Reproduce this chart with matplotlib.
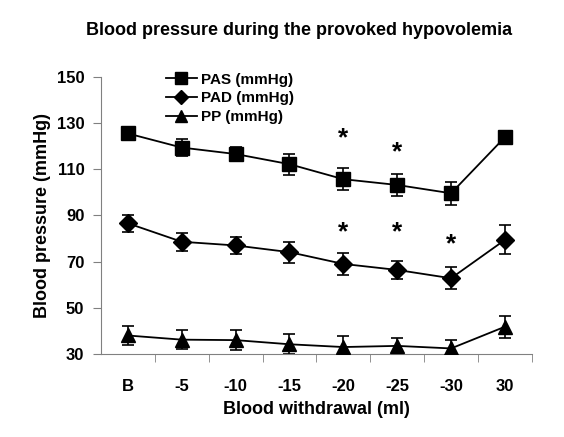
import numpy as np
import matplotlib.pyplot as plt

plt.rcParams['font.family'] = ['Liberation Sans', 'DejaVu Sans']
plt.rcParams['font.weight'] = 'bold'

categories = ['B', '-5', '-10', '-15', '-20', '-25', '-30', '30']

pas = [125.5, 119.4, 116.6, 112.2, 105.7, 103.2, 99.6, 123.9]
pas_err = [1.2, 3.6, 3.2, 4.5, 4.8, 4.9, 5.0, 2.2]

pad = [86.6, 78.6, 77.0, 74.1, 69.0, 66.4, 62.8, 79.4]
pad_err = [3.8, 3.8, 3.5, 4.5, 4.6, 4.0, 4.8, 6.3]

pp = [38.0, 36.2, 36.0, 34.2, 33.0, 33.5, 32.4, 41.8]
pp_err = [4.0, 4.0, 4.3, 4.3, 4.8, 3.4, 3.5, 4.7]

# significance marks: (category index, y value)
stars_x = [4, 5, 4, 5, 6]
stars_y = [123.5, 117.4, 82.8, 82.8, 77.6]

x = np.arange(len(categories))

fig = plt.figure(figsize=(5.64, 4.37), dpi=100)
ax = fig.add_axes([0.179, 0.19, 0.764, 0.634])

series = [(pas, pas_err, 's', 10, 'PAS (mmHg)'),
          (pad, pad_err, 'D', 9, 'PAD (mmHg)'),
          (pp, pp_err, '^', 10, 'PP (mmHg)')]
handles = []
for y, e, m, ms, lab in series:
    ax.errorbar(x, y, yerr=e, fmt='none', ecolor='black', elinewidth=1.2,
                capsize=4, capthick=1.2, zorder=2)
    h, = ax.plot(x, y, color='black', lw=1.3, marker=m, markersize=ms,
                 markerfacecolor='black', label=lab, zorder=3)
    handles.append(h)

for sx, sy in zip(stars_x, stars_y):
    ax.text(sx, sy, '*', ha='center', va='center', fontsize=19, fontweight='bold')

ax.set_xlim(-0.5, 7.5)
ax.set_ylim(30, 150)
ax.set_yticks(np.arange(30, 151, 20))
ax.set_xticks(x)
ax.set_xticklabels(categories)
ax.set_xticks(np.arange(0.5, 8, 1), minor=True)
ax.tick_params(axis='x', which='major', length=0, pad=18, labelsize=12)
ax.tick_params(axis='x', which='minor', length=6, color='gray', direction='out')
ax.tick_params(axis='y', length=6, color='gray', direction='out', labelsize=12, pad=6)
for s in ['top', 'right']:
    ax.spines[s].set_visible(False)
for s in ['left', 'bottom']:
    ax.spines[s].set_color('gray')

ax.set_ylabel('Blood pressure (mmHg)', fontsize=13, fontweight='bold')
ax.set_xlabel('Blood withdrawal (ml)', fontsize=13, fontweight='bold', labelpad=5)
fig.text(0.53, 0.93, 'Blood pressure during the provoked hypovolemia',
         ha='center', va='center', fontsize=13, fontweight='bold')

leg = fig.legend(handles=handles, loc='upper left', bbox_to_anchor=(0.27, 0.865),
                 frameon=False, fontsize=11, handlelength=2.0, markerscale=0.8,
                 labelspacing=0.3, handletextpad=0.3)

fig.savefig('out.png', dpi=100)
